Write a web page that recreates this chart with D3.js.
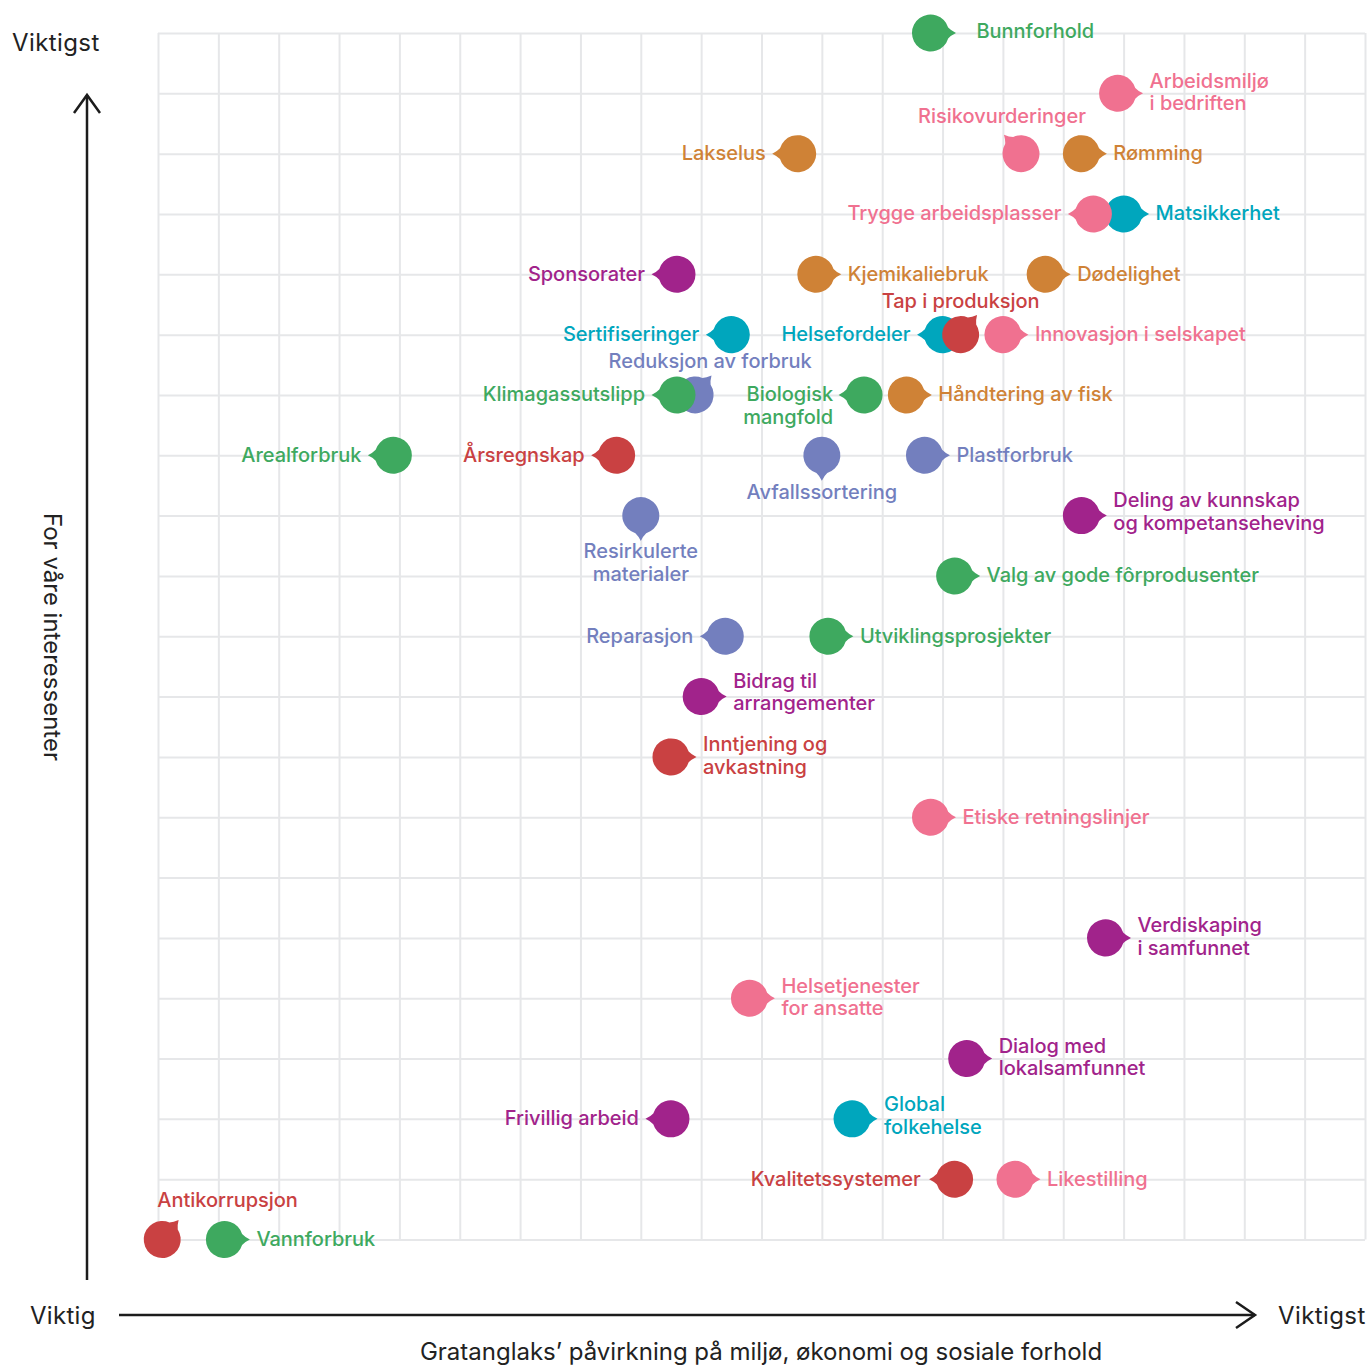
<!DOCTYPE html>
<html><head><meta charset="utf-8">
<script src="https://cdn.jsdelivr.net/npm/d3@7/dist/d3.min.js"></script>
<style>
body{margin:0;background:#fff}
svg{display:block}
</style>
</head><body>
<svg id="chart" width="1370" height="1367"></svg>
<script>
// ---------- DATA ----------
const topics = [
  "Bunnforhold","Arbeidsmiljø\ni bedriften","Risikovurderinger","Lakselus","Rømming",
  "Matsikkerhet","Trygge arbeidsplasser","Sponsorater","Kjemikaliebruk","Dødelighet",
  "Sertifiseringer","Helsefordeler","Tap i produksjon","Innovasjon i selskapet",
  "Reduksjon av forbruk","Klimagassutslipp","Biologisk\nmangfold","Håndtering av fisk",
  "Arealforbruk","Årsregnskap","Avfallssortering","Plastforbruk",
  "Deling av kunnskap\nog kompetanseheving","Resirkulerte\nmaterialer","Valg av gode fôrprodusenter",
  "Reparasjon","Utviklingsprosjekter","Bidrag til\narrangementer","Inntjening og\navkastning",
  "Etiske retningslinjer","Verdiskaping\ni samfunnet","Helsetjenester\nfor ansatte",
  "Dialog med\nlokalsamfunnet","Frivillig arbeid","Global\nfolkehelse","Kvalitetssystemer",
  "Likestilling","Antikorrupsjon","Vannforbruk"
];
// x: Gratanglaks' påvirkning (0–20)
const impact = [
  12.8,15.9,14.3,10.6,15.3,
  16.0,15.5,8.6,10.9,14.7,
  9.5,13.0,13.3,14.0,
  8.9,8.6,11.7,12.4,
  3.9,7.6,11.0,12.7,
  15.3,8.0,13.2,
  9.4,11.1,9.0,8.5,
  12.8,15.7,9.8,
  13.4,8.5,11.5,13.2,
  14.2,0.07,1.1
];
// y: for våre interessenter (0–20)
const stakeholders = [
  20,19,18,18,18,
  17,17,16,16,16,
  15,15,15,15,
  14,14,14,14,
  13,13,13,13,
  12,12,11,
  10,10,9,8,
  7,5,4,
  3,2,2,1,
  1,0,0
];
const groupNames = ["Miljø","Fiskevelferd","Ansatte","Mat og helse","Samfunn","Økonomi","Ressursbruk"];
const topicGroup = [
  "Miljø","Ansatte","Ansatte","Fiskevelferd","Fiskevelferd",
  "Mat og helse","Ansatte","Samfunn","Fiskevelferd","Fiskevelferd",
  "Mat og helse","Mat og helse","Økonomi","Ansatte",
  "Ressursbruk","Miljø","Miljø","Fiskevelferd",
  "Miljø","Økonomi","Ressursbruk","Ressursbruk",
  "Samfunn","Ressursbruk","Miljø",
  "Ressursbruk","Miljø","Samfunn","Økonomi",
  "Ansatte","Samfunn","Ansatte",
  "Samfunn","Samfunn","Mat og helse","Økonomi",
  "Ansatte","Økonomi","Miljø"
];
const gridTicks = d3.range(0, 21);
const axisTexts = {yTop:"Viktigst", xLeft:"Viktig", xRight:"Viktigst",
  xTitle:"Gratanglaks’ påvirkning på miljø, økonomi og sosiale forhold",
  yTitle:"For våre interessenter"};

// ---------- STYLE / LAYOUT ----------
const groupColors = ["#3ea95f","#cf8236","#f07190","#00a6bd","#a1238b","#c94142","#737fbe"];
// label placement: [tail angle (deg), text-anchor, dx, dy of first line]
const labelLayout = {
  "Bunnforhold":[0,"start",46,-1],
  "Risikovurderinger":[-132,"middle",-19,-37],
  "Tap i produksjon":[-50,"middle",0,-33],
  "Reduksjon av forbruk":[-50,"middle",15,-33],
  "Antikorrupsjon":[-50,"start",-5,-39],
  "Avfallssortering":[90,"middle",0,37],
  "Resirkulerte\nmaterialer":[90,"middle",0,36],
  "Biologisk\nmangfold":[180,"end",-31,0],
  "Deling av kunnskap\nog kompetanseheving":[0,"start",32,-15],
  "Bidrag til\narrangementer":[0,"start",32,-15],
  "Global\nfolkehelse":[0,"start",32,-14],
  "Kvalitetssystemer":[180,"end",-34,0]
};
const leftLabels = new Set(["Lakselus","Trygge arbeidsplasser","Sponsorater","Sertifiseringer",
  "Helsefordeler","Klimagassutslipp","Arealforbruk","Årsregnskap","Reparasjon","Frivillig arbeid"]);

const margin = {left:158, right:1365, top:33, bottom:1239.5};
const R = 18.5, TAIL = 25.5, LINE = 22.5;
const FONT = "Inter, 'Noto Sans', sans-serif";

const svg = d3.select("#chart");
const x = d3.scaleLinear().domain([0,20]).range([margin.left, margin.right]);
const y = d3.scaleLinear().domain([0,20]).range([margin.bottom, margin.top]);
const color = d3.scaleOrdinal().domain(groupNames).range(groupColors);

// grid
const gGridX = svg.append("g").attr("transform",`translate(0,${margin.bottom})`)
  .call(d3.axisBottom(x).tickValues(gridTicks).tickSize(-(margin.bottom-margin.top)).tickFormat(""));
const gGridY = svg.append("g").attr("transform",`translate(${margin.left},0)`)
  .call(d3.axisLeft(y).tickValues(gridTicks).tickSize(-(margin.right-margin.left)).tickFormat(""));
[gGridX,gGridY].forEach(g=>{
  g.select(".domain").remove();
  g.selectAll(".tick line").attr("stroke","#e6e7e9").attr("stroke-width",2);
});

// axis arrows
const ink = "#1c1c1c";
svg.append("line").attr("x1",87).attr("y1",1280).attr("x2",87).attr("y2",95)
  .attr("stroke",ink).attr("stroke-width",2.5);
svg.append("path").attr("d","M74,113 L87,95 L100,113").attr("fill","none")
  .attr("stroke",ink).attr("stroke-width",2.5);
svg.append("line").attr("x1",119).attr("y1",1315).attr("x2",1255).attr("y2",1315)
  .attr("stroke",ink).attr("stroke-width",2.5);
svg.append("path").attr("d","M1236,1302 L1255,1315 L1236,1328").attr("fill","none")
  .attr("stroke",ink).attr("stroke-width",2.5);

const axisFont = g => g.attr("font-family",FONT).attr("font-size",24).attr("fill","#222").attr("font-weight",400);
svg.append("text").call(axisFont).attr("x",12).attr("y",43).attr("dy","0.35em").attr("letter-spacing",0.4).text(axisTexts.yTop);
svg.append("text").call(axisFont).attr("x",30).attr("y",1316).attr("dy","0.35em").attr("letter-spacing",0.3).text(axisTexts.xLeft);
svg.append("text").call(axisFont).attr("x",1278).attr("y",1316).attr("dy","0.35em").attr("letter-spacing",0.4).text(axisTexts.xRight);
svg.append("text").call(axisFont).attr("x",761).attr("y",1352).attr("dy","0.35em")
  .attr("text-anchor","middle").text(axisTexts.xTitle);
svg.append("text").call(axisFont).attr("transform","translate(52,637) rotate(90)")
  .attr("dy","0.35em").attr("text-anchor","middle").text(axisTexts.yTitle);

// points
const data = topics.map((t,i)=>{
  let lay = labelLayout[t];
  if(!lay){
    const two = t.includes("\n");
    lay = leftLabels.has(t) ? [180,"end",-32,0] : [0,"start",32, two ? -12 : 0];
  }
  return {name:t, x:impact[i], y:stakeholders[i], group:topicGroup[i], lay};
});

function markerPath(a){
  const th = a*Math.PI/180, s = 17*Math.PI/180;
  const p1 = [R*Math.cos(th-s), R*Math.sin(th-s)];
  const p2 = [R*Math.cos(th+s), R*Math.sin(th+s)];
  const tip = [TAIL*Math.cos(th), TAIL*Math.sin(th)];
  const m = 20.5;
  const c1 = [m*Math.cos(th-0.12), m*Math.sin(th-0.12)];
  const c2 = [m*Math.cos(th+0.12), m*Math.sin(th+0.12)];
  return `M${p1[0]},${p1[1]} Q${c1[0]},${c1[1]} ${tip[0]},${tip[1]} Q${c2[0]},${c2[1]} ${p2[0]},${p2[1]} A${R},${R} 0 1 1 ${p1[0]},${p1[1]} Z`;
}

const pts = svg.append("g").selectAll("g").data(data).join("g")
  .attr("transform",d=>`translate(${x(d.x)},${y(d.y)})`);
pts.append("path").attr("d",d=>markerPath(d.lay[0])).attr("fill",d=>color(d.group));

const labels = svg.append("g").selectAll("text").data(data).join("text")
  .attr("font-family",FONT).attr("font-size",20).attr("font-weight",500)
  .attr("letter-spacing",-0.02)
  .attr("fill",d=>color(d.group))
  .attr("text-anchor",d=>d.lay[1]);
labels.each(function(d){
  const lines = d.name.split("\n");
  const t = d3.select(this);
  lines.forEach((ln,k)=>{
    t.append("tspan").attr("x",x(d.x)+d.lay[2]).attr("y",y(d.y)+d.lay[3]+k*LINE)
      .attr("dy","0.32em").text(ln);
  });
});
</script>
</body></html>
